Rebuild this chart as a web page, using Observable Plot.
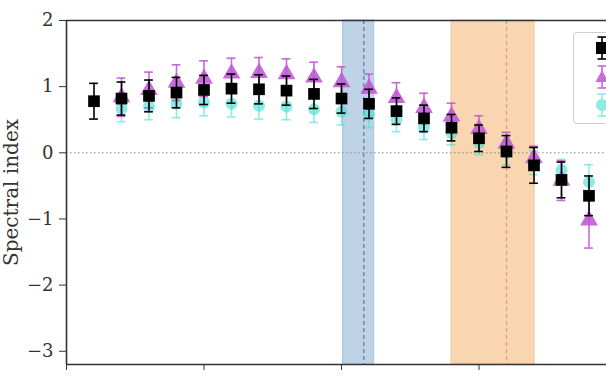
<!DOCTYPE html>
<html>
<head>
<meta charset="utf-8">
<script src="https://cdn.jsdelivr.net/npm/d3@7"></script>
<script src="https://cdn.jsdelivr.net/npm/@observablehq/plot@0.6"></script>
<style>
  html, body { margin: 0; padding: 0; background: #fff; overflow: hidden; width: 606px; height: 379px; }
  #wrap { position: relative; width: 606px; height: 379px; }
  #legend { position: absolute; left: 573px; top: 32px; width: 60px; height: 90px;
            border: 1px solid #cfcfcf; border-radius: 4px; background: rgba(255,255,255,0.85); }
</style>
</head>
<body>
<div id="wrap"></div>
<script>
// ---- data ----
const xs = [1, 2, 3, 4, 5, 6, 7, 8, 9, 10, 11, 12, 13, 14, 15, 16, 17, 18, 19];
const blackY   = [0.78, 0.82, 0.86, 0.91, 0.95, 0.97, 0.96, 0.94, 0.89, 0.82, 0.74, 0.63, 0.52, 0.38, 0.22, 0.02, -0.19, -0.41, -0.65];
const blackErr = [0.27, 0.25, 0.24, 0.23, 0.22, 0.22, 0.22, 0.22, 0.22, 0.22, 0.22, 0.20, 0.20, 0.20, 0.20, 0.24, 0.27, 0.27, 0.30];
const purpleY   = [null, 0.84, 0.95, 1.06, 1.12, 1.20, 1.21, 1.19, 1.14, 1.07, 0.97, 0.83, 0.68, 0.55, 0.36, 0.14, -0.08, -0.42, -1.02];
const purpleErr = [null, 0.29, 0.27, 0.27, 0.27, 0.23, 0.23, 0.23, 0.23, 0.23, 0.22, 0.23, 0.22, 0.20, 0.20, 0.17, 0.18, 0.30, 0.42];
const cyanY   = [null, 0.67, 0.70, 0.74, 0.76, 0.74, 0.71, 0.70, 0.66, 0.62, 0.58, 0.50, 0.38, 0.30, 0.15, 0.00, -0.15, -0.26, -0.44];
const cyanErr = [null, 0.20, 0.20, 0.21, 0.20, 0.20, 0.20, 0.20, 0.20, 0.20, 0.20, 0.18, 0.18, 0.18, 0.18, 0.18, 0.18, 0.16, 0.26];
const yTicks = [-3, -2, -1, 0, 1, 2];
const xTicks = [0, 5, 10, 15];
const yLabel = "Spectral index";
const blueBand = {x1: 10.06, x2: 11.19, line: 10.81};
const orangeBand = {x1: 14.0, x2: 17.02, line: 16.0};

const FONT = "'DejaVu Serif', serif";
const capHalf = 0.16;

function rows(ys, es) {
  return xs.map((x, i) => ({x, y: ys[i], e: es[i]})).filter(d => d.y != null);
}
const series = [
  {data: rows(cyanY, cyanErr), color: "#40e0d0", op: 0.6, symbol: "circle", r: 6},
  {data: rows(purpleY, purpleErr), color: "#c15ad6", op: 0.9, symbol: "triangle", r: 6.6},
  {data: rows(blackY, blackErr), color: "#000000", op: 1, symbol: "square", r: 6.6}
];

const seriesMarks = series.flatMap(s => [
  Plot.ruleX(s.data, {x: "x", y1: d => d.y - d.e, y2: d => d.y + d.e, stroke: s.color, strokeOpacity: s.op, strokeWidth: 1.6}),
  Plot.ruleY(s.data, {y: d => d.y + d.e, x1: d => d.x - capHalf, x2: d => d.x + capHalf, stroke: s.color, strokeOpacity: s.op, strokeWidth: 1.6}),
  Plot.ruleY(s.data, {y: d => d.y - d.e, x1: d => d.x - capHalf, x2: d => d.x + capHalf, stroke: s.color, strokeOpacity: s.op, strokeWidth: 1.6}),
  Plot.dot(s.data, {x: "x", y: "y", symbol: () => s.symbol, r: s.r, fill: s.color, fillOpacity: s.op, stroke: "none"})
]);

const fmt = d => (d < 0 ? "\u2212" : "") + Math.abs(d);

const chart = Plot.plot({
  width: 606,
  height: 379,
  marginLeft: 66,
  marginRight: 0,
  marginTop: 20,
  marginBottom: 15,
  style: {fontFamily: FONT, fontSize: "18px", color: "#333", background: "transparent"},
  x: {domain: [0, 19.636], axis: null},
  y: {domain: [-3.2, 2], axis: null},
  marks: [
    Plot.rect([blueBand], {x1: "x1", x2: "x2", fill: "#bed3e5", stroke: "#a9c2d9", strokeWidth: 1}),
    Plot.rect([orangeBand], {x1: "x1", x2: "x2", fill: "#f9d6b0", stroke: "#efc59a", strokeWidth: 1}),
    Plot.ruleX([blueBand.line], {stroke: "#5d7fa6", strokeWidth: 1.3, strokeDasharray: "4,3"}),
    Plot.ruleX([orangeBand.line], {stroke: "#d8a26f", strokeWidth: 1.3, strokeDasharray: "4,3"}),
    Plot.ruleY([0], {stroke: "#888", strokeWidth: 1, strokeDasharray: "1.5,2.5"}),
    ...seriesMarks,
    Plot.ruleY([2], {stroke: "#333", strokeWidth: 1.6}),
    Plot.ruleY([-3.2], {stroke: "#333", strokeWidth: 1.6}),
    Plot.ruleX([0], {stroke: "#333", strokeWidth: 1.6}),
    Plot.axisY({ticks: yTicks, tickSize: 7, tickPadding: 6, tickFormat: fmt, fontSize: 18, label: null, stroke: "#333"}),
    Plot.axisX({ticks: xTicks, tickSize: 6, tickFormat: () => "", label: null, stroke: "#333"}),
    Plot.text([yLabel], {text: d => d, frameAnchor: "left", textAnchor: "middle", lineAnchor: "middle", rotate: -90, dx: -55, fontSize: 20, fill: "#333"})
  ]
});
const wrap = document.getElementById("wrap");
wrap.appendChild(chart);

// legend (partially outside the photographed area, like the reference)
const legend = document.createElement("div");
legend.id = "legend";
legend.innerHTML = `
<svg width="60" height="90" style="position:absolute;left:0;top:0">
  <g transform="translate(28,15)">
    <line x1="0" y1="-11" x2="0" y2="11" stroke="#000" stroke-width="1.6"/>
    <line x1="-4.5" y1="-11" x2="4.5" y2="-11" stroke="#000" stroke-width="1.6"/>
    <line x1="-4.5" y1="11" x2="4.5" y2="11" stroke="#000" stroke-width="1.6"/>
    <rect x="-6" y="-6" width="12" height="12" fill="#000"/>
  </g>
  <g transform="translate(28,44)" opacity="0.9">
    <line x1="0" y1="-11" x2="0" y2="11" stroke="#c15ad6" stroke-width="1.6"/>
    <line x1="-4.5" y1="-11" x2="4.5" y2="-11" stroke="#c15ad6" stroke-width="1.6"/>
    <line x1="-4.5" y1="11" x2="4.5" y2="11" stroke="#c15ad6" stroke-width="1.6"/>
    <path d="M0,-7L6.5,5L-6.5,5Z" fill="#c15ad6"/>
  </g>
  <g transform="translate(28,72)" opacity="0.6">
    <line x1="0" y1="-11" x2="0" y2="11" stroke="#40e0d0" stroke-width="1.6"/>
    <line x1="-4.5" y1="-11" x2="4.5" y2="-11" stroke="#40e0d0" stroke-width="1.6"/>
    <line x1="-4.5" y1="11" x2="4.5" y2="11" stroke="#40e0d0" stroke-width="1.6"/>
    <circle r="6" fill="#40e0d0"/>
  </g>
</svg>`;
wrap.appendChild(legend);
</script>
</body>
</html>
